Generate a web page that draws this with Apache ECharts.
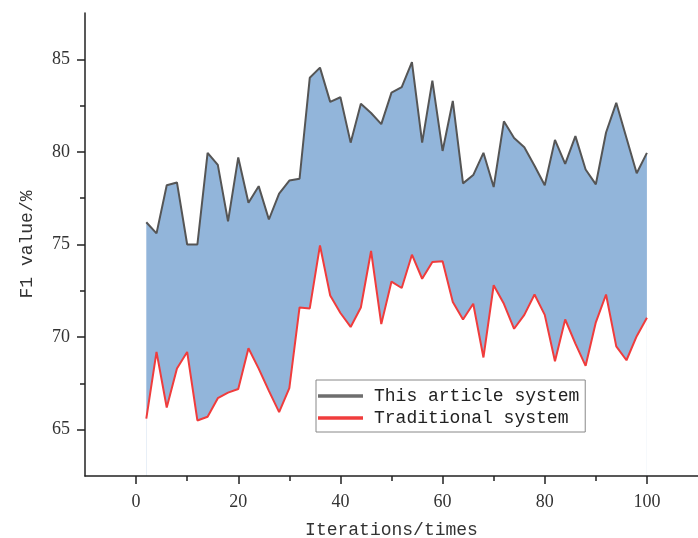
<!DOCTYPE html>
<html>
<head>
<meta charset="utf-8">
<script src="https://cdn.jsdelivr.net/npm/echarts@6/dist/echarts.min.js"></script>
<style>
  html, body { margin: 0; padding: 0; background: #fff; }
  #chartBox { width: 698px; height: 538px; }
</style>
</head>
<body>
<div id="chartBox"></div>
<script>
// iteration number of each point
const iterations = [2, 4, 6, 8, 10, 12, 14, 16, 18, 20, 22, 24, 26, 28, 30, 32, 34, 36, 38, 40,
  42, 44, 46, 48, 50, 52, 54, 56, 58, 60, 62, 64, 66, 68, 70, 72, 74, 76, 78, 80,
  82, 84, 86, 88, 90, 92, 94, 96, 98, 100]
// F1 value (%) of this article's system
const thisArticle = [76.2, 75.6, 78.2, 78.35, 75.0, 75.0, 79.95, 79.3, 76.25, 79.7,
  77.25, 78.15, 76.35, 77.75, 78.45, 78.55, 84.0, 84.55, 82.7, 82.95,
  80.5, 82.6, 82.1, 81.5, 83.2, 83.5, 84.85, 80.5, 83.85, 80.05,
  82.75, 78.3, 78.75, 79.95, 78.1, 81.65, 80.75, 80.25, 79.25, 78.2,
  80.65, 79.35, 80.85, 79.05, 78.25, 81.05, 82.65, 80.75, 78.85, 79.95]
// F1 value (%) of the traditional system
const traditional = [65.6, 69.2, 66.2, 68.3, 69.2, 65.5, 65.7, 66.7, 67.0, 67.2,
  69.4, 68.3, 67.1, 65.95, 67.25, 71.6, 71.55, 74.95, 72.25, 71.3,
  70.55, 71.6, 74.65, 70.7, 73.0, 72.65, 74.45, 73.15, 74.05, 74.1,
  71.9, 70.95, 71.8, 68.9, 72.8, 71.8, 70.45, 71.2, 72.3, 71.2,
  68.7, 70.95, 69.65, 68.45, 70.8, 72.3, 69.5, 68.75, 70.05, 71.05]

const xTickLabels = [0, 20, 40, 60, 80, 100]
const xMinorTicks = [10, 30, 50, 70, 90]
const yTickLabels = [65, 70, 75, 80, 85]
const yMinorTicks = [67.5, 72.5, 77.5, 82.5]

const pairs = (vals) => iterations.map((x, i) => [x, vals[i]])

const axisColor = '#222'
const labelFont = { color: '#333', fontSize: 18, fontFamily: 'Liberation Serif' }
const nameFont = { color: '#333', fontSize: 18, fontFamily: 'Liberation Mono' }
const lineIcon = 'path://M0 0H40V3H0Z'

const chart = echarts.init(document.getElementById('chartBox'))
chart.setOption({
  animation: false,
  grid: { left: 85, right: 0, top: 13, bottom: 62, outerBoundsMode: 'none' },
  legend: {
    data: [
      { name: 'This article system', icon: lineIcon, itemStyle: { color: '#6e6e6e' } },
      { name: 'Traditional system', icon: lineIcon }
    ],
    orient: 'vertical',
    left: 316,
    top: 380,
    padding: [7, 6, 5, 2],
    itemGap: 4,
    itemWidth: 45,
    itemHeight: 16,
    borderColor: '#888',
    borderWidth: 1,
    textStyle: { color: '#222', fontSize: 18, fontFamily: 'Liberation Mono', padding: [0, 0, 0, 6] }
  },
  xAxis: [
    {
      type: 'value',
      min: -10,
      max: 110,
      z: 10,
      name: 'Iterations/times',
      nameLocation: 'middle',
      nameGap: 45,
      nameTextStyle: nameFont,
      axisLine: { show: true, onZero: false, lineStyle: { color: axisColor, width: 1.5 } },
      axisTick: { show: true, length: 8, customValues: xTickLabels, lineStyle: { color: axisColor, width: 1.5 } },
      axisLabel: { customValues: xTickLabels, margin: 17, ...labelFont },
      splitLine: { show: false }
    },
    {
      type: 'value',
      position: 'bottom',
      min: -10,
      max: 110,
      z: 10,
      axisLine: { show: false, onZero: false },
      axisTick: { show: true, length: 5, customValues: xMinorTicks, lineStyle: { color: axisColor, width: 1.5 } },
      axisLabel: { show: false },
      splitLine: { show: false }
    }
  ],
  yAxis: [
    {
      type: 'value',
      min: 62.5,
      max: 87.5,
      z: 10,
      name: 'F1 value/%',
      nameLocation: 'middle',
      nameGap: 49,
      nameTextStyle: nameFont,
      axisLine: { show: true, onZero: false, lineStyle: { color: axisColor, width: 1.5 } },
      axisTick: { show: true, length: 8, customValues: yTickLabels, lineStyle: { color: axisColor, width: 1.5 } },
      axisLabel: { customValues: yTickLabels, margin: 15, ...labelFont },
      splitLine: { show: false }
    },
    {
      type: 'value',
      position: 'left',
      min: 62.5,
      max: 87.5,
      z: 10,
      axisLine: { show: false, onZero: false },
      axisTick: { show: true, length: 5, customValues: yMinorTicks, lineStyle: { color: axisColor, width: 1.5 } },
      axisLabel: { show: false },
      splitLine: { show: false }
    }
  ],
  series: [
    {
      // blue band: area under the upper line ...
      name: 'band-top',
      type: 'line',
      data: pairs(thisArticle),
      symbol: 'none',
      silent: true,
      lineStyle: { opacity: 0 },
      areaStyle: { color: '#92b5da', opacity: 1, origin: 'start' }
    },
    {
      // ... with the part under the lower line painted white again
      name: 'band-bottom',
      type: 'line',
      data: pairs(traditional),
      symbol: 'none',
      silent: true,
      lineStyle: { opacity: 0 },
      areaStyle: { color: '#fff', opacity: 1, origin: 'start' }
    },
    {
      name: 'This article system',
      type: 'line',
      data: pairs(thisArticle),
      symbol: 'none',
      color: '#555',
      lineStyle: { color: '#555', width: 2 }
    },
    {
      name: 'Traditional system',
      type: 'line',
      data: pairs(traditional),
      symbol: 'none',
      color: '#f03c3c',
      lineStyle: { color: '#f03c3c', width: 2 }
    }
  ]
})
</script>
</body>
</html>
